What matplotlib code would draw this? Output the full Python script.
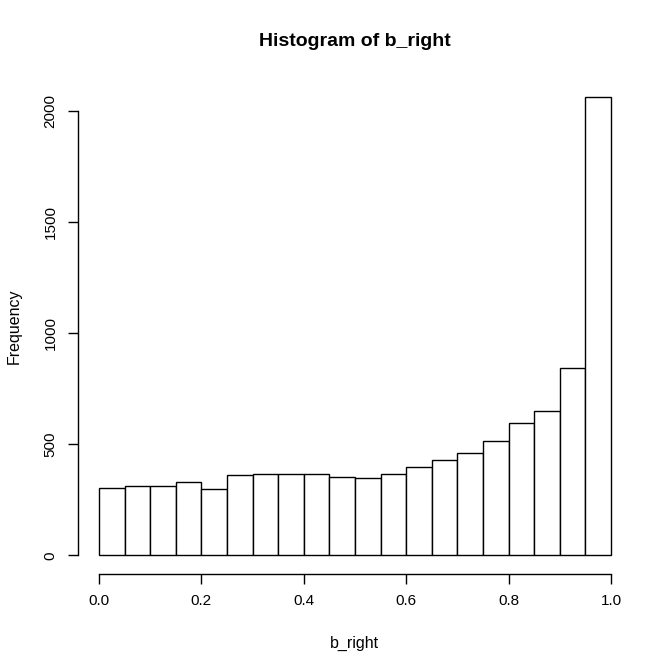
import matplotlib
matplotlib.use("Agg")
import matplotlib.pyplot as plt
import numpy as np

plt.rcParams['font.family'] = ['Liberation Sans', 'DejaVu Sans']

# bin edges and counts
bin_edges = np.round(np.arange(0, 1.0001, 0.05), 2)
counts = [302, 311, 311, 329, 297, 360, 365, 365, 365, 351,
          347, 365, 396, 428, 459, 513, 595, 649, 842, 2064]
x_ticks = [0.0, 0.2, 0.4, 0.6, 0.8, 1.0]
y_ticks = [0, 500, 1000, 1500, 2000]

fig = plt.figure(figsize=(6.72, 6.72), dpi=100)
ax = fig.add_axes([0.1168, 0.1464, 0.9397 - 0.1168, 0.8829 - 0.1464])

ax.bar(bin_edges[:-1], counts, width=0.05, align='edge',
       facecolor='white', edgecolor='black', linewidth=1.0)

ax.set_xlim(-0.04, 1.04)
ax.set_ylim(-0.04 * 2064, 1.04 * 2064)

for s in ['top', 'right']:
    ax.spines[s].set_visible(False)
ax.spines['left'].set_bounds(0, 2000)
ax.spines['bottom'].set_bounds(0, 1)
ax.spines['left'].set_linewidth(1.0)
ax.spines['bottom'].set_linewidth(1.0)

ax.set_xticks(x_ticks)
ax.set_xticklabels(['0.0', '0.2', '0.4', '0.6', '0.8', '1.0'])
ax.set_yticks(y_ticks)
ax.set_yticklabels([str(v) for v in y_ticks], rotation=90, va='center')
ax.tick_params(length=7, width=1.0, labelsize=11, pad=8)

ax.set_xlabel('b_right', fontsize=11.5, labelpad=20)
ax.set_ylabel('Frequency', fontsize=11.5, labelpad=16)
ax.set_title('Histogram of b_right', fontsize=14, fontweight='bold', pad=23.5)

fig.savefig('out.png', dpi=100)
